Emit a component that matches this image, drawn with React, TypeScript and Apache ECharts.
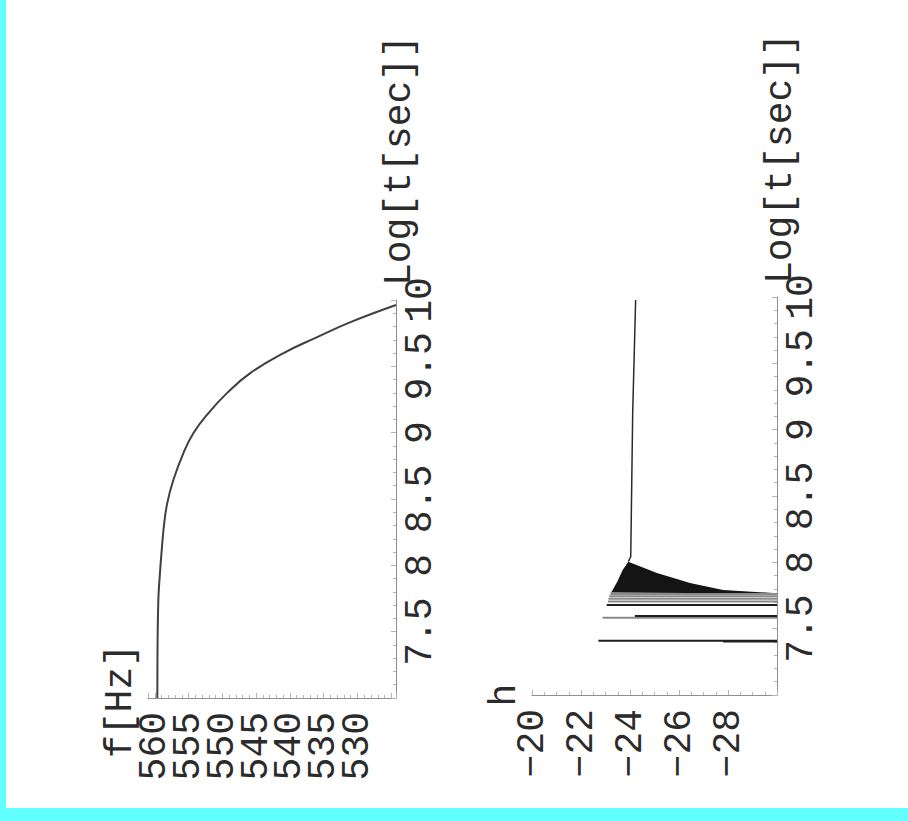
import { useEffect, useRef } from 'react';
import * as echarts from 'echarts';

// ---- Upper panel: frequency against log time ----
const logTimeRange = [7, 10];
const freqRange = [524.3, 561.0];
const freqTimes = [7.0, 7.362, 7.739, 7.927, 8.115, 8.304, 8.469, 8.643, 8.846, 8.997, 9.148, 9.298, 9.449, 9.6, 9.72, 9.833, 9.962];
const freqValues = [559.62, 559.59, 559.47, 559.25, 558.97, 558.63, 558.15, 557.25, 555.76, 554.27, 552.05, 549.32, 545.87, 540.93, 535.97, 531.03, 524.3];

// ---- Lower panel: h against log time ----
const strainRange = [-30, -20];
// isolated excursions up from the floor of the plot range
const sharpSpikeTimes = [7.409, 7.404, 7.595, 7.678];
const sharpSpikePeaks = [-22.71, -27.8, -24.2, -23.05];
const faintSpikeTimes = [7.583, 7.705, 7.725, 7.745, 7.762];
const faintSpikePeaks = [-22.88, -23.1, -23.12, -23.15, -23.2];
// outline of the densely oscillating stretch (h, log t), walked around its edge
const burstValues = [-30, -23.2, -23.25, -23.48, -23.7, -23.93, -25.1, -26.45, -27.8, -29.84, -30];
const burstTimes = [7.765, 7.772, 7.779, 7.854, 7.942, 8.005, 7.92, 7.844, 7.792, 7.769, 7.768];
// smooth stretch after the oscillations
const tailTimes = [8.005, 8.042, 9.126, 9.977];
const tailValues = [-23.93, -24.03, -24.11, -24.23];

// tick spacing
const logTimeStep = 0.5;
const strainStep = 2;

const MONO = '"Liberation Mono", "DejaVu Sans Mono", monospace';
const AXIS_GREY = '#8f8f8f';
const TICK_GREY = '#b4b4b4';
const INK = '#2b2b2b';

function App() {
  const ref = useRef<HTMLDivElement>(null);

  useEffect(() => {
    if (!ref.current) return;
    const chart = echarts.init(ref.current, null, { renderer: 'svg' });

    const axisLine = { show: true, lineStyle: { color: AXIS_GREY, width: 1 } };
    const axisTick = { show: true, inside: true, length: 5, lineStyle: { color: TICK_GREY, width: 1 } };
    const minorTick = (n: number) => ({ show: true, splitNumber: n, length: 3, lineStyle: { color: TICK_GREY, width: 1 } });
    const labelBase = { fontFamily: MONO, fontSize: 38, color: INK };

    const timeLabel = (v: number) => (v < logTimeRange[0] + 0.25 ? '' : String(v));
    const freqLabel = (v: number) => {
      const r = Math.round(v);
      return Math.abs(v - r) < 1e-6 && r % 5 === 0 && r >= 530 && r <= 560 ? String(r) : '';
    };
    const strainLabel = (v: number) =>
      v <= strainRange[0] + 0.5 ? '' : '\u2212' + String(Math.abs(v));

    const spike = (color: string) => (_p: any, api: any) => {
      const a = api.coord([api.value(0), api.value(1)]);
      const b = api.coord([strainRange[0], api.value(1)]);
      return { type: 'line', shape: { x1: a[0], y1: a[1], x2: b[0], y2: b[1] }, style: { stroke: color, lineWidth: 2 } };
    };

    const option: any = {
      animation: false,
      grid: [
        { left: 148, top: 300, width: 248, height: 398 },
        { left: 532, top: 297, width: 245, height: 398 },
      ],
      xAxis: [
        {
          gridIndex: 0,
          type: 'value',
          min: freqRange[0],
          max: freqRange[1],
          inverse: true,
          splitNumber: 7,
          position: 'bottom',
          axisLine,
          axisTick,
          minorTick: minorTick(5),
          splitLine: { show: false },
          axisLabel: { ...labelBase, rotate: 90, margin: 14, formatter: freqLabel },
        },
        {
          gridIndex: 1,
          type: 'value',
          min: strainRange[0],
          max: strainRange[1],
          interval: strainStep,
          inverse: true,
          position: 'bottom',
          axisLine,
          axisTick,
          minorTick: minorTick(4),
          splitLine: { show: false },
          axisLabel: { ...labelBase, rotate: 90, margin: 14, formatter: strainLabel },
        },
      ],
      yAxis: [0, 1].map((g) => ({
        gridIndex: g,
        type: 'value',
        min: logTimeRange[0],
        max: logTimeRange[1],
        interval: logTimeStep,
        position: 'right',
        axisLine,
        axisTick,
        minorTick: minorTick(5),
        splitLine: { show: false },
        axisLabel: { ...labelBase, rotate: 90, margin: 5, formatter: timeLabel },
      })),
      graphic: [
        {
          type: 'text',
          x: 120,
          y: 701,
          rotation: Math.PI / 2,
          style: { text: 'f[Hz]', font: `38px ${MONO}`, fill: INK, textAlign: 'center', textVerticalAlign: 'middle' },
        },
        {
          type: 'text',
          x: 504,
          y: 695,
          rotation: Math.PI / 2,
          style: { text: 'h', font: `38px ${MONO}`, fill: INK, textAlign: 'center', textVerticalAlign: 'middle' },
        },
        {
          type: 'text',
          x: 399,
          y: 286,
          rotation: Math.PI / 2,
          style: { text: 'Log[t[sec]]', font: `38px ${MONO}`, fill: INK, textAlign: 'left', textVerticalAlign: 'middle' },
        },
        {
          type: 'text',
          x: 780,
          y: 284,
          rotation: Math.PI / 2,
          style: { text: 'Log[t[sec]]', font: `38px ${MONO}`, fill: INK, textAlign: 'left', textVerticalAlign: 'middle' },
        },
      ],
      series: [
        {
          type: 'line',
          xAxisIndex: 0,
          yAxisIndex: 0,
          data: freqTimes.map((t, i) => [freqValues[i], t]),
          smooth: 0.45,
          showSymbol: false,
          lineStyle: { color: '#404040', width: 2 },
        },
        {
          type: 'custom',
          xAxisIndex: 1,
          yAxisIndex: 1,
          data: [0],
          renderItem: (_p: any, api: any) => ({
            type: 'polygon',
            shape: { points: burstTimes.map((t, i) => api.coord([burstValues[i], t])) },
            style: { fill: '#141414' },
          }),
        },
        {
          type: 'custom',
          xAxisIndex: 1,
          yAxisIndex: 1,
          data: faintSpikeTimes.map((t, i) => [faintSpikePeaks[i], t]),
          renderItem: spike('#8a8a8a'),
        },
        {
          type: 'custom',
          xAxisIndex: 1,
          yAxisIndex: 1,
          data: sharpSpikeTimes.map((t, i) => [sharpSpikePeaks[i], t]),
          renderItem: spike('#1e1e1e'),
        },
        {
          type: 'line',
          xAxisIndex: 1,
          yAxisIndex: 1,
          data: tailTimes.map((t, i) => [tailValues[i], t]),
          showSymbol: false,
          lineStyle: { color: '#2a2a2a', width: 1.5 },
        },
      ],
    };

    chart.setOption(option);
    return () => chart.dispose();
  }, []);

  return (
    <div style={{ position: 'fixed', left: 0, top: 0, width: 908, height: 821, background: '#61ffff' }}>
      <div style={{ position: 'absolute', left: 6, top: 0, width: 902, height: 808, background: '#ffffff' }} />
      <div ref={ref} style={{ position: 'absolute', left: 0, top: 0, width: 908, height: 821 }} />
    </div>
  );
}

export default App;
